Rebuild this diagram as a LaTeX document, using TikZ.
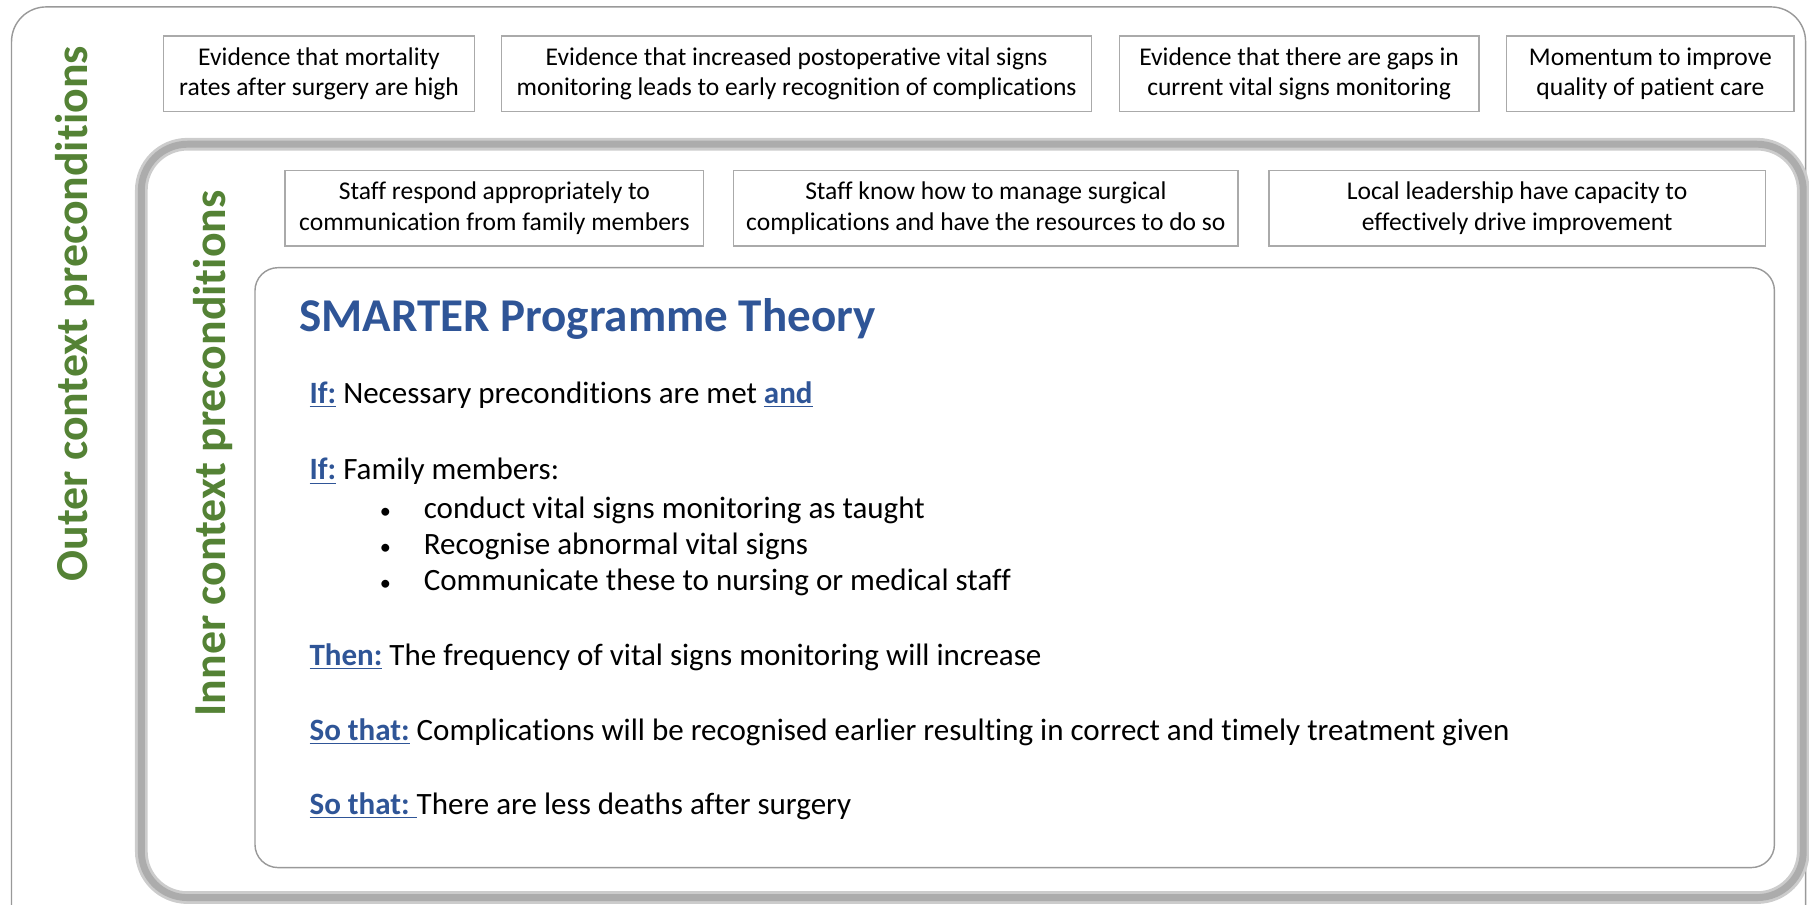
\documentclass[tikz,border=0pt]{standalone}
\usepackage{fontspec}
\setmainfont{Carlito}[Ligatures=NoCommon]
\definecolor{ctxgreen}{RGB}{84,130,53}
\definecolor{smblue}{RGB}{47,85,151}
\definecolor{boxgray}{RGB}{170,170,170}
\newcommand{\cue}[1]{{\color{smblue}\bfseries\underline{#1}}}

\begin{document}
\begin{tikzpicture}[
  pre/.style={draw=boxgray, line width=0.6pt, align=center, inner sep=0pt,
    minimum height=1.31cm, font=\fontsize{12.6}{15.2}\selectfont},
  side/.style={rotate=90, text=ctxgreen, font=\fontsize{22.6}{27}\selectfont\bfseries},
  stmt/.style={anchor=base west, inner sep=0pt, font=\fontsize{15.3}{18}\selectfont},
  dot/.style={anchor=base, inner sep=0pt, font=\fontsize{11}{13}\selectfont}
]
\useasboundingbox (0,0) rectangle (31.36cm,-15.68cm);
\clip (0,0) rectangle (31.36cm,-15.68cm);
%outer frame
\draw[gray!80, line width=0.7pt, rounded corners=0.6cm] (0.2cm,-0.12cm) rectangle (31.3cm,-16.4cm);
\node[side] (outerlbl) at (1.3cm,-5.44cm) {Outer context preconditions};
%outer preconditions
\node[pre, minimum width=5.38cm]  (mort) at (5.53cm,-1.28cm)  {Evidence that mortality\\rates after surgery are high};
\node[pre, minimum width=10.22cm] (incr) at (13.81cm,-1.28cm) {Evidence that increased postoperative vital signs\\monitoring leads to early recognition of complications};
\node[pre, minimum width=6.24cm]  (gaps) at (22.52cm,-1.28cm) {Evidence that there are gaps in\\current vital signs monitoring};
\node[pre, minimum width=4.98cm]  (mome) at (28.61cm,-1.28cm) {Momentum to improve\\quality of patient care};
%inner frame
\draw[gray!40, line width=0.22cm, rounded corners=0.8cm] (2.45cm,-2.5cm) rectangle (31.26cm,-15.56cm);
\draw[gray!65, line width=0.12cm, rounded corners=0.8cm] (2.45cm,-2.5cm) rectangle (31.26cm,-15.56cm);
\node[side] (innerlbl) at (3.7cm,-7.86cm) {Inner context preconditions};
%inner preconditions
\node[pre, minimum width=7.26cm] (resp) at (8.57cm,-3.61cm)  {Staff respond appropriately to\\communication from family members};
\node[pre, minimum width=8.74cm] (mana) at (17.09cm,-3.61cm) {Staff know how to manage surgical\\complications and have the resources to do so};
\node[pre, minimum width=8.60cm] (lead) at (26.3cm,-3.61cm)  {Local leadership have capacity to\\effectively drive improvement};
%programme theory
\draw[gray!80, line width=0.7pt, rounded corners=0.4cm] (4.42cm,-4.64cm) rectangle (30.76cm,-15.04cm);
\node[anchor=base west, inner sep=0pt, text=smblue, font=\fontsize{23.2}{28}\selectfont\bfseries] (title) at (5.18cm,-5.74cm) {SMARTER Programme Theory};
\node[stmt] (if1)   at (5.36cm,-7.0cm)   {\cue{If:} Necessary preconditions are met \cue{and}};
\node[stmt] (if2)   at (5.36cm,-8.32cm)  {\cue{If:} Family members:};
\node[dot]  (dot1)  at (6.68cm,-8.98cm)  {•};
\node[dot]  (dot2)  at (6.68cm,-9.62cm)  {•};
\node[dot]  (dot3)  at (6.68cm,-10.24cm) {•};
\node[stmt] (item1) at (7.34cm,-8.98cm)  {conduct vital signs monitoring as taught};
\node[stmt] (item2) at (7.34cm,-9.62cm)  {Recognise abnormal vital signs};
\node[stmt] (item3) at (7.34cm,-10.24cm) {Communicate these to nursing or medical staff};
\node[stmt] (then)  at (5.36cm,-11.54cm) {\cue{Then:} The frequency of vital signs monitoring will increase};
\node[stmt] (so1)   at (5.36cm,-12.84cm) {\cue{So that:} Complications will be recognised earlier resulting in correct and timely treatment given};
\node[stmt] (so2)   at (5.36cm,-14.12cm) {\cue{So that:\ }There are less deaths after surgery};
\end{tikzpicture}
\end{document}
